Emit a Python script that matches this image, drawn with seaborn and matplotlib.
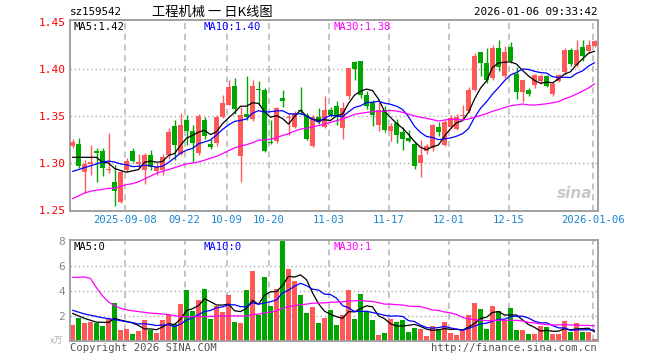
import numpy as np
import pandas as pd
import matplotlib
matplotlib.use("Agg")
import matplotlib.pyplot as plt
import seaborn as sns

# trading days (weekdays minus exchange holidays)
holidays = ["2025-10-01", "2025-10-02", "2025-10-03", "2025-10-06", "2025-10-07",
            "2025-10-08", "2026-01-01", "2026-01-02"]
dates = pd.bdate_range("2025-08-26", "2026-01-06")
dates = dates[~dates.isin(pd.to_datetime(holidays))]

open_ = [1.318, 1.320, 1.290, 1.299, 1.313, 1.313, 1.292, 1.280, 1.259, 1.293,
         1.313, 1.299, 1.292, 1.309, 1.291, 1.292, 1.309, 1.339, 1.310, 1.346,
         1.334, 1.311, 1.346, 1.320, 1.321, 1.349, 1.362, 1.382, 1.307, 1.352,
         1.347, 1.379, 1.378, 1.322, 1.323, 1.369, 1.348, 1.338, 1.356, 1.351,
         1.318, 1.349, 1.338, 1.356, 1.361, 1.337, 1.371, 1.407, 1.408, 1.372,
         1.364, 1.340, 1.356, 1.334, 1.343, 1.333, 1.327, 1.320, 1.300, 1.313,
         1.316, 1.338, 1.319, 1.338, 1.336, 1.350, 1.355, 1.378, 1.418, 1.406,
         1.390, 1.422, 1.392, 1.423, 1.395, 1.376, 1.378, 1.383, 1.387, 1.392,
         1.373, 1.387, 1.397, 1.420, 1.404, 1.423, 1.419, 1.424]
high = [1.325, 1.327, 1.303, 1.319, 1.316, 1.316, 1.332, 1.298, 1.292, 1.305,
        1.316, 1.310, 1.311, 1.314, 1.300, 1.310, 1.337, 1.346, 1.353, 1.351,
        1.340, 1.352, 1.349, 1.326, 1.351, 1.372, 1.388, 1.390, 1.360, 1.393,
        1.388, 1.387, 1.380, 1.346, 1.360, 1.378, 1.353, 1.355, 1.381, 1.353,
        1.351, 1.359, 1.371, 1.360, 1.366, 1.365, 1.401, 1.408, 1.409, 1.377,
        1.367, 1.365, 1.361, 1.343, 1.347, 1.338, 1.335, 1.322, 1.324, 1.320,
        1.341, 1.344, 1.346, 1.351, 1.352, 1.362, 1.381, 1.417, 1.418, 1.422,
        1.425, 1.431, 1.424, 1.429, 1.402, 1.388, 1.380, 1.395, 1.395, 1.394,
        1.386, 1.395, 1.422, 1.422, 1.431, 1.431, 1.431, 1.431]
low = [1.316, 1.295, 1.268, 1.287, 1.280, 1.286, 1.289, 1.254, 1.257, 1.290,
       1.301, 1.295, 1.278, 1.293, 1.287, 1.287, 1.304, 1.303, 1.308, 1.319,
       1.301, 1.309, 1.325, 1.315, 1.318, 1.348, 1.362, 1.352, 1.280, 1.346,
       1.345, 1.362, 1.312, 1.320, 1.321, 1.360, 1.330, 1.337, 1.352, 1.324,
       1.317, 1.341, 1.337, 1.349, 1.340, 1.325, 1.368, 1.388, 1.369, 1.357,
       1.339, 1.334, 1.333, 1.323, 1.321, 1.314, 1.322, 1.294, 1.285, 1.310,
       1.313, 1.329, 1.318, 1.336, 1.335, 1.346, 1.353, 1.377, 1.392, 1.385,
       1.388, 1.398, 1.390, 1.406, 1.368, 1.365, 1.371, 1.380, 1.384, 1.381,
       1.371, 1.386, 1.395, 1.403, 1.402, 1.408, 1.417, 1.423]
close = [1.322, 1.297, 1.299, 1.301, 1.311, 1.295, 1.294, 1.270, 1.290, 1.302,
         1.302, 1.301, 1.309, 1.296, 1.296, 1.306, 1.333, 1.319, 1.340, 1.334,
         1.321, 1.350, 1.329, 1.317, 1.349, 1.364, 1.381, 1.357, 1.351, 1.349,
         1.382, 1.378, 1.313, 1.321, 1.358, 1.366, 1.349, 1.353, 1.355, 1.326,
         1.349, 1.344, 1.356, 1.351, 1.350, 1.359, 1.401, 1.400, 1.372, 1.361,
         1.351, 1.356, 1.335, 1.339, 1.330, 1.325, 1.323, 1.297, 1.308, 1.318,
         1.340, 1.333, 1.344, 1.348, 1.349, 1.351, 1.378, 1.414, 1.406, 1.388,
         1.422, 1.402, 1.418, 1.408, 1.376, 1.388, 1.373, 1.394, 1.393, 1.382,
         1.384, 1.394, 1.420, 1.405, 1.420, 1.414, 1.425, 1.430]
# volume in 万
volume = [1.26, 1.85, 1.42, 1.53, 1.45, 1.18, 1.80, 3.03, 0.86, 0.94,
          0.54, 0.80, 1.66, 0.86, 0.62, 1.66, 2.06, 1.39, 2.95, 4.07,
          2.39, 3.27, 4.16, 1.74, 2.79, 2.33, 3.67, 1.50, 1.42, 4.07,
          5.55, 2.06, 5.12, 2.79, 4.16, 7.94, 5.76, 4.80, 3.67, 2.23,
          2.71, 1.42, 1.82, 2.47, 1.26, 2.06, 4.07, 1.74, 3.75, 2.39,
          1.66, 0.46, 0.62, 1.74, 1.50, 1.66, 0.70, 1.02, 0.94, 0.38,
          1.18, 0.94, 1.50, 0.62, 0.46, 0.86, 2.06, 3.03, 2.55, 0.94,
          2.79, 2.39, 1.66, 2.63, 0.86, 0.86, 0.54, 0.54, 1.18, 1.10,
          0.54, 0.54, 1.58, 0.70, 1.42, 0.70, 0.70, 0.13]

# moving-average values before a full window exists
ma5_head = [1.306, 1.306, 1.306, 1.306]
ma10_head = [1.291, 1.293, 1.295, 1.297, 1.299, 1.301, 1.302, 1.301, 1.299]
ma30_head = [1.262, 1.265, 1.268, 1.270, 1.271, 1.272, 1.273, 1.273, 1.275, 1.277,
             1.278, 1.280, 1.283, 1.286, 1.289, 1.291, 1.293, 1.295, 1.297, 1.299,
             1.300, 1.301, 1.303, 1.305, 1.307, 1.310, 1.313, 1.316, 1.318]
vol_ma5_head = [2.2, 2.0, 1.8, 1.65]
vol_ma10_head = [2.45, 2.3, 2.15, 2.05, 1.95, 1.85, 1.78, 1.7, 1.62]
vol_ma30_head = [5.07, 5.07, 5.10, 4.98, 4.23, 3.60, 3.10, 2.82, 2.60, 2.48,
                 2.40, 2.34, 2.28, 2.22, 2.19, 2.15, 2.10, 2.02, 1.94, 1.93,
                 1.93, 1.93, 1.94, 1.96, 1.98, 1.99, 2.00, 2.00, 1.99]

tick_dates = ["2025-09-08", "2025-09-22", "2025-10-09", "2025-10-20", "2025-11-03",
              "2025-11-17", "2025-12-01", "2025-12-15", "2026-01-06"]
tick_labels = ["2025-09-08", "09-22", "10-09", "10-20", "11-03",
               "11-17", "12-01", "12-15", "2026-01-06"]


def moving(values, n, head):
    s = pd.Series(values, dtype=float).rolling(n).mean()
    s.iloc[:n - 1] = head
    return s.values


df = pd.DataFrame({"date": dates, "open": open_, "high": high, "low": low,
                   "close": close, "volume": volume})
df["i"] = np.arange(len(df))
df["ma5"] = moving(close, 5, ma5_head)
df["ma10"] = moving(close, 10, ma10_head)
df["ma30"] = moving(close, 30, ma30_head)
df["vma5"] = moving(volume, 5, vol_ma5_head)
df["vma10"] = moving(volume, 10, vol_ma10_head)
df["vma30"] = moving(volume, 30, vol_ma30_head)

RED, GREEN = "#ff5858", "#00a600"
up = df["close"] >= df["open"]
up.iloc[33] = False
colors = np.where(up, RED, GREEN)

sns.set_style("white")
plt.rcParams["font.family"] = ["DejaVu Sans Mono", "Noto Sans CJK SC"]

W, H = 660, 360
fig = plt.figure(figsize=(6.6, 3.6), dpi=100)
ax = fig.add_axes([70 / W, 149 / H, 527.7 / W, 191 / H])
axv = fig.add_axes([70 / W, 19 / H, 527.7 / W, 101 / H])

tick_idx = [int(np.where(df["date"] == pd.Timestamp(d))[0][0]) for d in tick_dates]

for a in (ax, axv):
    a.set_xlim(-0.42, 87.53)
    for s in a.spines.values():
        s.set_color("#a0a0a0")
        s.set_linewidth(1.4)
    for t in tick_idx:
        a.axvline(t - 0.3, color="#b4b4b4", lw=1.1, dashes=(4, 3), zorder=0)
    a.tick_params(length=0)

# price panel
ax.set_ylim(1.2489, 1.4521)
for g in (1.30, 1.35, 1.40):
    ax.axhline(g, color="#aaaaaa", lw=1, ls=(0, (1, 2)), zorder=0)
x = df["i"].values
body_lo = np.minimum(df["open"], df["close"])
body_h = np.maximum((df["close"] - df["open"]).abs(), 0.0011)
ax.vlines(x, df["low"], df["high"], colors=colors, lw=1, zorder=2)
ax.bar(x, body_h, bottom=body_lo, width=0.8, color=colors, lw=0, zorder=3)
sns.lineplot(data=df, x="i", y="ma5", ax=ax, color="black", lw=0.9, zorder=4)
sns.lineplot(data=df, x="i", y="ma10", ax=ax, color="#0000ff", lw=0.9, zorder=4)
sns.lineplot(data=df, x="i", y="ma30", ax=ax, color="#ff00ff", lw=0.9, zorder=4)
ax.set_yticks([1.25, 1.30, 1.35, 1.40, 1.45])
ax.set_yticklabels(["1.25", "1.30", "1.35", "1.40", "1.45"], color="#ff0000", fontsize=8)
ax.set_xticks([t - 0.3 for t in tick_idx])
ax.set_xticklabels(tick_labels, color="#1a86d0", fontsize=7.6)
ax.tick_params(axis="x", pad=3)
ax.tick_params(axis="y", pad=3)
ax.set_xlabel("")
ax.set_ylabel("")

# volume panel
axv.set_ylim(0, 8.04)
for g in (2, 4, 6):
    axv.axhline(g, color="#aaaaaa", lw=1, ls=(0, (1, 2)), zorder=0)
axv.bar(x, df["volume"], width=0.8, color=colors, lw=0, zorder=2)
sns.lineplot(data=df, x="i", y="vma5", ax=axv, color="black", lw=0.9, zorder=4)
sns.lineplot(data=df, x="i", y="vma10", ax=axv, color="#0000ff", lw=0.9, zorder=4)
sns.lineplot(data=df, x="i", y="vma30", ax=axv, color="#ff00ff", lw=0.9, zorder=4)
axv.set_yticks([2, 4, 6, 8])
axv.set_yticklabels(["2", "4", "6", "8"], color="#888888", fontsize=8)
axv.set_xticks([])
axv.set_xlabel("")
axv.set_ylabel("")


def ftext(px, py, s, **kw):
    fig.text(px / W, 1 - py / H, s, va="center", **kw)


ftext(70, 12, "sz159542", fontsize=7.8, color="black")
ftext(212, 12, "工程机械 一 日K线图", fontsize=9.5, ha="center", color="black",
      family=["Noto Sans CJK SC", "DejaVu Sans"])
ftext(597, 12, "2026-01-06 09:33:42", fontsize=7.8, ha="right", color="black")

ftext(74, 27, "MA5:%.2f" % df["ma5"].iloc[-1], fontsize=7.6, color="black")
ftext(204, 27, "MA10:1.40", fontsize=7.6, color="#0000ff")
ftext(334, 27, "MA30:%.2f" % df["ma30"].iloc[-1], fontsize=7.6, color="#ff00ff")
ftext(74, 247, "MA5:0", fontsize=7.6, color="black")
ftext(204, 247, "MA10:0", fontsize=7.6, color="#0000ff")
ftext(334, 247, "MA30:1", fontsize=7.6, color="#ff00ff")

ftext(575, 194, "sina", fontsize=11, fontweight="bold", style="italic",
      ha="center", color="#c8c8c8", family="DejaVu Sans")
ftext(57, 341, "x万", fontsize=6.5, ha="center", color="#b0b0b0",
      family=["Noto Sans CJK SC", "DejaVu Sans"])
ftext(70, 348, "Copyright 2026 SINA.COM", fontsize=7.6, color="#555555")
ftext(597, 348, "http://finance.sina.com.cn", fontsize=7.6, ha="right", color="#555555")

fig.savefig("out.png", dpi=100)
